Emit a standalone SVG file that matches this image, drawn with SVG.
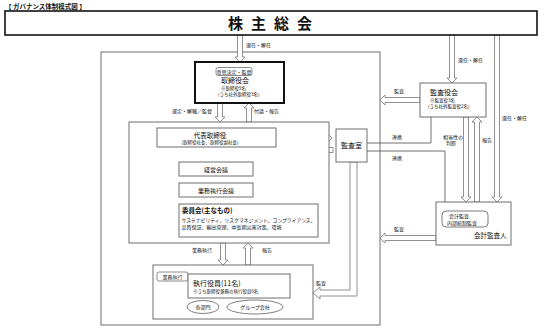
<svg xmlns="http://www.w3.org/2000/svg" width="544" height="329" viewBox="0 0 544 329">
<style>
text{font-family:"Noto Sans CJK JP","Noto Sans CJK SC",sans-serif;fill:#111}
.box{fill:#fff;stroke:#6e6e6e;stroke-width:1}
.thick{fill:#fff;stroke:#111;stroke-width:2}
.arr{fill:#fff;stroke:#858585;stroke-width:0.9}
.ln{fill:none;stroke:#6e6e6e;stroke-width:1}
.lbl{font-size:5px}
.t7{font-size:7px}
.t5{font-size:5px}
.t45{font-size:4.5px}
</style>
<rect width="544" height="329" fill="#fff"/>
<text x="5" y="8.5" style="font-size:6.5px;font-weight:bold">【 ガバナンス体制模式図 】</text>

<g id="company"><rect class="box" x="101" y="52" width="279" height="273"/></g>

<g id="connectors">
<polygon class="arr" points="237.5,35 237.5,57 235,57 240,62 245,57 242.5,57 242.5,35"/>
<polygon class="arr" points="217.5,103 217.5,117 215,117 220,122 225,117 222.5,117 222.5,103"/>
<polygon class="arr" points="246.5,122 246.5,108 244,108 249,103 254,108 251.5,108 251.5,122"/>
<polygon class="arr" points="276,135.5 327,135.5 327,133 332,138 327,143 327,140.5 276,140.5"/>
<polygon class="arr" points="333,147.5 281,147.5 281,145 276,150 281,155 281,152.5 333,152.5"/>
<polygon class="arr" points="220.5,243 220.5,260 218,260 223,265 228,260 225.5,260 225.5,243"/>
<polygon class="arr" points="245.5,265 245.5,248 243,248 248,243 253,248 250.5,248 250.5,265"/>
<polygon class="arr" points="420,97.5 385,97.5 385,95 380,100 385,105 385,102.5 420,102.5"/>
<polygon class="arr" points="449.5,35 449.5,78 447,78 452,83 457,78 454.5,78 454.5,35"/>
<polygon class="arr" points="463.5,117 463.5,197 461,197 466,202 471,197 468.5,197 468.5,117"/>
<polygon class="arr" points="474.5,202 474.5,122 472,122 477,117 482,122 479.5,122 479.5,202"/>
<polygon class="arr" points="494.5,35 494.5,197 492,197 497,202 502,197 499.5,197 499.5,35"/>
<polygon class="arr" points="436,235.5 385,235.5 385,233 380,238 385,243 385,240.5 436,240.5"/>
<polygon class="arr" points="350,162 350,290 320,290 320,287 313,293 320,299 320,296 357,296 357,162"/>
<polyline class="ln" points="367,143 431,143 431,117"/>
<polyline class="ln" points="367,151 445,151 445,202"/>
<polyline class="ln" points="168,147 168,217 179,217"/>
<line class="ln" x1="168" y1="169" x2="179" y2="169"/>
<line class="ln" x1="168" y1="190" x2="179" y2="190"/>
<text class="lbl" x="246" y="47">選任・解任</text>
<text class="lbl" x="172" y="113">選定・解職／監督</text>
<text class="lbl" x="254" y="113">付議・報告</text>
<text class="lbl" x="296" y="132">指示</text>
<text class="lbl" x="296" y="158">報告</text>
<text class="lbl" x="192" y="252">業務執行</text>
<text class="lbl" x="262" y="252">報告</text>
<text class="lbl" x="316" y="285">監査</text>
<text class="lbl" x="392" y="139">連携</text>
<text class="lbl" x="392" y="160">連携</text>
<text class="lbl" x="394" y="93">監査</text>
<text class="lbl" x="394" y="231">監査</text>
<text class="lbl" x="458" y="62">選任・解任</text>
<text class="lbl" x="443" y="139">相当性の</text>
<text class="lbl" x="446" y="145">判断</text>
<text class="lbl" x="482" y="142">報告</text>
<text class="lbl" x="502" y="120">選任・解任</text>
</g>

<g id="shareholders">
<rect x="5" y="11" width="532" height="24" fill="#fff" stroke="#111" stroke-width="1.6"/>
<text x="274" y="28.5" text-anchor="middle" style="font-size:15px;font-weight:bold;letter-spacing:8px">株主総会</text>
</g>

<g id="board">
<rect class="thick" x="195" y="62" width="89" height="41"/>
<rect x="216" y="67.5" width="36" height="8" rx="2" fill="#fff" stroke="#6e6e6e" stroke-width="0.8"/>
<text class="t5" x="234" y="73.5" text-anchor="middle">意思決定・監督</text>
<text class="t7" x="221" y="83">取締役会</text>
<text class="t45" x="221" y="90">※取締役9名</text>
<text class="t45" x="218" y="96">(うち社外取締役3名)</text>
</g>

<g id="exec-area"><rect class="box" x="129" y="122" width="200" height="121"/></g>

<g id="representative">
<rect class="box" x="157" y="128" width="119" height="19"/>
<text x="210" y="138" text-anchor="middle" style="font-size:6.5px">代表取締役</text>
<text class="t45" x="210" y="144" text-anchor="middle">(取締役社長、取締役副社長)</text>
</g>

<g id="management-meeting">
<rect class="box" x="179" y="162" width="74" height="14"/>
<text x="216" y="171.5" text-anchor="middle" style="font-size:6px">経営会議</text>
</g>

<g id="execution-meeting">
<rect class="box" x="179" y="183" width="74" height="14"/>
<text x="216" y="192.5" text-anchor="middle" style="font-size:6px">業務執行会議</text>
</g>

<g id="committees">
<rect class="box" x="179" y="204" width="139" height="33"/>
<text x="182" y="213" style="font-size:6.5px;font-weight:bold">委員会(主なもの)</text>
<text class="t5" x="181.5" y="221.5" textLength="134" lengthAdjust="spacingAndGlyphs">サステナビリティ、リスクマネジメント、コンプライアンス、</text>
<text class="t5" x="181.5" y="229">品質保証、輸出管理、中長期災害対策、環境</text>
</g>

<g id="audit-office">
<rect class="box" x="336" y="129" width="31" height="33"/>
<text class="t7" x="351.5" y="148" text-anchor="middle">監査室</text>
</g>

<g id="executives">
<rect class="box" x="153" y="265" width="160" height="54"/>
<rect x="157" y="272" width="31" height="9" rx="2" fill="#fff" stroke="#6e6e6e" stroke-width="0.8"/>
<text class="t5" x="172.5" y="278.8" text-anchor="middle">業務執行</text>
<rect class="box" x="188" y="274" width="102" height="24"/>
<text class="t7" x="193" y="286">執行役員(11名)</text>
<text class="t45" x="193" y="292.5">※うち取締役兼務の執行役員6名</text>
<ellipse cx="203" cy="307" rx="16" ry="6.5" fill="#fff" stroke="#6e6e6e" stroke-width="0.9"/>
<text class="t5" x="203" y="309" text-anchor="middle">各部門</text>
<ellipse cx="255" cy="307" rx="28" ry="7" fill="#fff" stroke="#6e6e6e" stroke-width="0.9"/>
<text class="t5" x="255" y="309" text-anchor="middle">グループ会社</text>
</g>

<g id="auditors-board">
<rect class="box" x="420" y="83" width="66" height="34"/>
<text class="t7" x="430" y="94.5">監査役会</text>
<text class="t45" x="430" y="101.5">※監査役3名</text>
<text class="t45" x="428" y="107.5">(うち社外監査役2名)</text>
</g>

<g id="accounting-auditor">
<rect class="box" x="436" y="202" width="75" height="43"/>
<rect x="442" y="211" width="46" height="16" rx="4" fill="#fff" stroke="#6e6e6e" stroke-width="0.9"/>
<text class="t5" x="449" y="218">会計監査</text>
<text class="t5" x="447" y="224.5">内部統制監査</text>
<text x="474" y="237.5" style="font-size:6.5px">会計監査人</text>
</g>
</svg>
